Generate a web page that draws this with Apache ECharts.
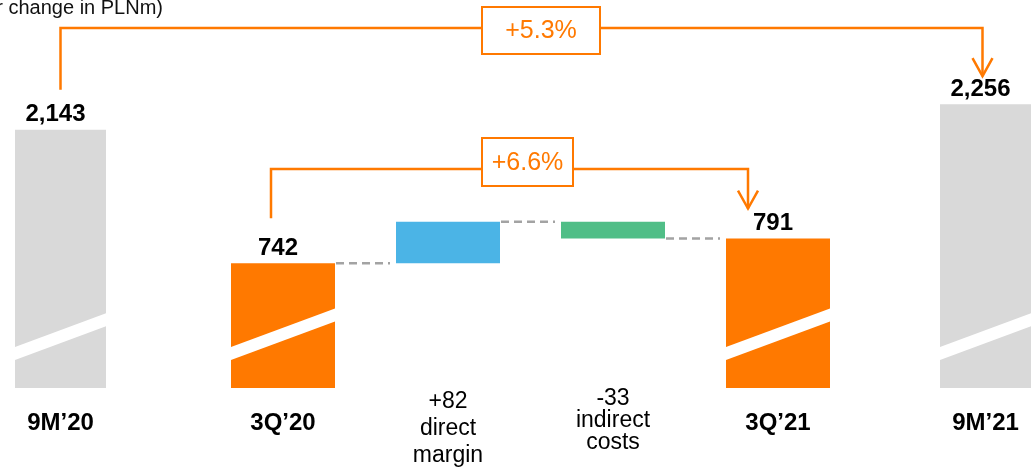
<!DOCTYPE html>
<html>
<head>
<meta charset="utf-8">
<script src="https://cdn.jsdelivr.net/npm/echarts@6/dist/echarts.min.js"></script>
<style>
  html, body { margin: 0; padding: 0; background: #fff; }
  #chart { width: 1033px; height: 468px; }
</style>
</head>
<body>
<div id="chart"></div>
<script>
// Nine-month totals, PLNm
const periodLabels = ['9M’20', '9M’21'];
const periodValues = [2143, 2256];

// Quarterly bridge, PLNm
const quarterLabels = ['3Q’20', '3Q’21'];
const quarterValues = [742, 791];
const driverLabels = ['direct\nmargin', 'indirect\ncosts'];
const driverValues = [82, -33];

const unitNote = '(year-on-year change in PLNm)';

const FONT = '"Liberation Sans", Arial, Helvetica, sans-serif';
const ORANGE = '#FF7900';
const GREY = '#D9D9D9';
const BLUE = '#4BB4E6';
const GREEN = '#50BE87';
const DASH = '#A3A3A3';

const fmt = v => v.toLocaleString('en-US');
const pct = (a, b) => {
  const p = (b / a - 1) * 100;
  return (p >= 0 ? '+' : '') + p.toFixed(1) + '%';
};
const signed = v => (v > 0 ? '+' : '') + v;

// Bridge layout: running level after each step
const bridgeCats = [quarterLabels[0], ...driverLabels, quarterLabels[1]];
const levels = [quarterValues[0]];
driverValues.forEach(d => levels.push(levels[levels.length - 1] + d));

const totalLabel = {
  show: true, position: 'top', distance: 3, offset: [-5, 0],
  color: '#000', fontFamily: FONT, fontSize: 24, fontWeight: 'bold',
  formatter: p => fmt(p.value)
};

const floatBase = [0];
const floatBars = [{ value: quarterValues[0], itemStyle: { color: ORANGE }, label: totalLabel }];
driverValues.forEach((d, i) => {
  floatBase.push(Math.min(levels[i], levels[i + 1]));
  floatBars.push({ value: Math.abs(d), itemStyle: { color: d >= 0 ? BLUE : GREEN } });
});
floatBase.push(0);
floatBars.push({ value: quarterValues[1], itemStyle: { color: ORANGE }, label: totalLabel });

const SIDE_W = 91;
const MID_W = 104;

// White diagonal band marking the truncated value axis
function breakBand(barW) {
  return function (params, api) {
    const cx = api.coord([api.value(0), api.value(1)])[0];
    const bottom = params.coordSys.y + params.coordSys.height;
    const x0 = cx - barW / 2, x1 = cx + barW / 2;
    const rise = barW * 0.37, lo = bottom - 28, th = 13;
    return {
      type: 'polygon',
      shape: { points: [[x0, lo], [x1, lo - rise], [x1, lo - rise - th], [x0, lo - th]] },
      style: { fill: '#fff' }
    };
  };
}

// Dashed step line between neighbouring bridge bars
function stepLine(params, api) {
  const i = api.value(0), lv = api.value(1);
  const a = api.coord([i, lv]), b = api.coord([i + 1, lv]);
  return {
    type: 'line',
    shape: { x1: a[0] + MID_W / 2 + 1, y1: a[1], x2: b[0] - MID_W / 2 - 6, y2: a[1] },
    style: { stroke: DASH, lineWidth: 2.5, lineDash: [8, 5] }
  };
}

const catRich = {
  q: { fontFamily: FONT, fontSize: 24, fontWeight: 'bold', color: '#000', lineHeight: 70 },
  a: { fontFamily: FONT, fontSize: 23, color: '#000', lineHeight: 27 },
  b: { fontFamily: FONT, fontSize: 23, color: '#000', lineHeight: 22 }
};

function catAxis(gridIndex, data, formatter) {
  return {
    type: 'category', gridIndex, data,
    axisLine: { show: false }, axisTick: { show: false },
    axisLabel: { interval: 0, margin: 0, rich: catRich, formatter }
  };
}
function valAxis(gridIndex, min, max) {
  return { type: 'value', gridIndex, min, max, show: false, splitLine: { show: false } };
}

const periodFmt = v => '{q|' + v + '}';
const bridgeFmt = (v, idx) => {
  if (idx === 0 || idx === bridgeCats.length - 1) return '{q|' + v + '}';
  const d = driverValues[idx - 1];
  const tag = d >= 0 ? 'a' : 'b';
  return [signed(d), ...v.split('\n')].map(s => '{' + tag + '|' + s + '}').join('\n');
};

const option = {
  animation: false,
  backgroundColor: '#fff',
  grid: [
    { left: 15, width: SIDE_W, top: 49, bottom: 80 },
    { left: 200.5, width: 660, top: 133, bottom: 80 },
    { left: 940, right: 2, top: 49, bottom: 80 }
  ],
  xAxis: [
    catAxis(0, [periodLabels[0]], periodFmt),
    catAxis(1, bridgeCats, bridgeFmt),
    catAxis(2, [periodLabels[1]], periodFmt)
  ],
  yAxis: [
    valAxis(0, 1000, 2500),
    valAxis(1, 495, 1000),
    valAxis(2, 1000, 2500)
  ],
  series: [
    {
      type: 'bar', xAxisIndex: 0, yAxisIndex: 0, barWidth: SIDE_W, clip: true,
      itemStyle: { color: GREY }, label: totalLabel,
      data: [periodValues[0]]
    },
    {
      type: 'bar', xAxisIndex: 2, yAxisIndex: 2, barWidth: SIDE_W, clip: true,
      itemStyle: { color: GREY }, label: totalLabel,
      data: [periodValues[1]]
    },
    {
      type: 'bar', xAxisIndex: 1, yAxisIndex: 1, stack: 'bridge', barWidth: MID_W, clip: true,
      itemStyle: { color: 'rgba(0,0,0,0)' }, silent: true,
      data: floatBase
    },
    {
      type: 'bar', xAxisIndex: 1, yAxisIndex: 1, stack: 'bridge', barWidth: MID_W, clip: true,
      data: floatBars
    },
    {
      type: 'custom', xAxisIndex: 0, yAxisIndex: 0, z: 5, silent: true,
      renderItem: breakBand(SIDE_W), data: [[0, periodValues[0]]]
    },
    {
      type: 'custom', xAxisIndex: 2, yAxisIndex: 2, z: 5, silent: true,
      renderItem: breakBand(SIDE_W), data: [[0, periodValues[1]]]
    },
    {
      type: 'custom', xAxisIndex: 1, yAxisIndex: 1, z: 5, silent: true,
      renderItem: breakBand(MID_W),
      data: [[0, quarterValues[0]], [bridgeCats.length - 1, quarterValues[1]]]
    },
    {
      type: 'custom', xAxisIndex: 1, yAxisIndex: 1, z: 4, silent: true,
      renderItem: stepLine,
      data: levels.slice(0, bridgeCats.length - 1).map((lv, i) => [i, lv])
    }
  ]
};

const chart = echarts.init(document.getElementById('chart'));
chart.setOption(option);

// Growth brackets drawn from the bars' pixel positions
function bracket(xL, yL, xR, yR, yLine, box, text) {
  const lineStyle = { stroke: ORANGE, lineWidth: 2.5, fill: null };
  return [
    { type: 'polyline', z: 10, shape: { points: [[xL, yL], [xL, yLine], [xR, yLine], [xR, yR]] }, style: lineStyle },
    { type: 'polyline', z: 10, shape: { points: [[xR - 10, yR - 18], [xR, yR], [xR + 10, yR - 18]] }, style: lineStyle },
    { type: 'rect', z: 11, shape: { x: box.cx - box.w / 2, y: box.cy - box.h / 2, width: box.w, height: box.h },
      style: { fill: '#fff', stroke: ORANGE, lineWidth: 2 } },
    { type: 'text', z: 12, style: {
        text, x: box.cx, y: box.cy + 1, fill: ORANGE, font: '25px ' + FONT,
        align: 'center', verticalAlign: 'middle', textAlign: 'center', textVerticalAlign: 'middle' } }
  ];
}

const pL = chart.convertToPixel({ xAxisIndex: 0, yAxisIndex: 0 }, [0, periodValues[0]]);
const pR = chart.convertToPixel({ xAxisIndex: 2, yAxisIndex: 2 }, [0, periodValues[1]]);
const qL = chart.convertToPixel({ xAxisIndex: 1, yAxisIndex: 1 }, [0, quarterValues[0]]);
const qR = chart.convertToPixel({ xAxisIndex: 1, yAxisIndex: 1 }, [bridgeCats.length - 1, quarterValues[1]]);

chart.setOption({
  graphic: [
    { type: 'text', z: 12, style: {
        text: unitNote, x: 163, y: 8, fill: '#111', font: '20px ' + FONT,
        align: 'right', verticalAlign: 'middle', textAlign: 'right', textVerticalAlign: 'middle' } },
    ...bracket(pL[0], pL[1] - 40, pR[0] - 3, pR[1] - 28, 28,
      { cx: 541, cy: 30.5, w: 118, h: 47 }, pct(periodValues[0], periodValues[1])),
    ...bracket(qL[0] - 12, qL[1] - 45, qR[0] - 30, qR[1] - 30, 169,
      { cx: 527.5, cy: 162, w: 91, h: 48 }, pct(quarterValues[0], quarterValues[1]))
  ]
});
</script>
</body>
</html>
